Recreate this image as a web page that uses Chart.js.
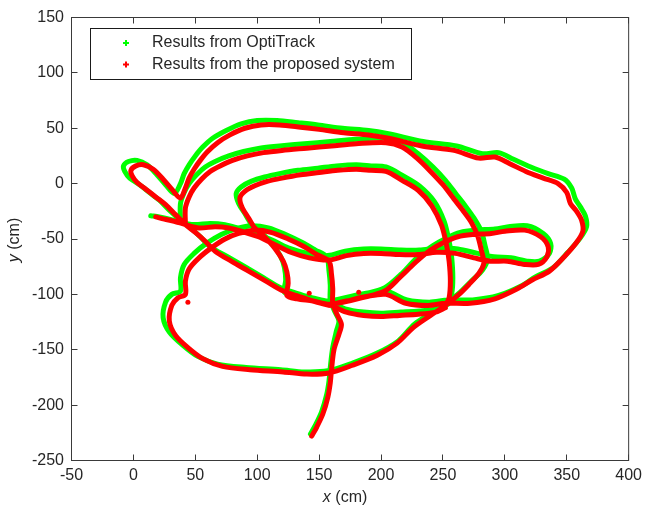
<!DOCTYPE html>
<html>
<head>
<meta charset="utf-8">
<script src="https://cdn.jsdelivr.net/npm/chart.js@4.4.1/dist/chart.umd.min.js"></script>
<style>
  body { margin: 0; background: #fff; }
  canvas { display: block; }
</style>
</head>
<body>
<canvas id="track" width="647" height="507"></canvas>
<script>
// tick values of both axes
var xTicks = [-50, 0, 50, 100, 150, 200, 250, 300, 350, 400];
var yTicks = [-250, -200, -150, -100, -50, 0, 50, 100, 150];
var legendLabels = ['Results from OptiTrack', 'Results from the proposed system'];

// trajectory, [x, y] in cm, null = break in the trace
var optiTrack = [
  [14,-29],[21,-30],[29,-32],[38,-35],[49,-37],[62,-36],[74,-37],[84,-40],[98,-45],[112,-51],[125,-58],[141,-63],[157,-65],
  [171,-61],[186,-59],[200,-59],[216,-60],[231,-60],[247,-58],[262,-59],[278,-63],[291,-66],[305,-67],[318,-70],[328,-70],
  [336,-63],[337,-54],[331,-45],[318,-38],[303,-39],[292,-41],[277,-42],[264,-44],[253,-49],[242,-56],[229,-67],[216,-82],
  [203,-94],[185,-100],[169,-104],[157,-106],[144,-103],[130,-101],[122,-98],[123,-87],[122,-76],[119,-66],[112,-54],
  [102,-43],[95,-36],[90,-27],[85,-18],[83,-9],[87,-3],[95,2],[106,6],[118,9],[133,12],[149,14],[164,16],[180,17],[192,16],
  [204,15],[218,7],[231,-2],[243,-16],[251,-34],[255,-52],[257,-66],[258,-85],[257,-100],[254,-107],
  null,
  [143,-226],[147,-218],[152,-206],[156,-191],[158,-178],[159,-166],[161,-148],[164,-133],[166,-124],[162,-114],[159,-105],
  [159,-92],[158,-79],[156,-66],[147,-60],[136,-53],[123,-46],[109,-40],[95,-38],[82,-41],[71,-46],[59,-54],[49,-63],[41,-73],
  [38,-85],[38,-97],[31,-100],[26,-107],[24,-121],[29,-134],[40,-146],[52,-156],[68,-163],[91,-166],[119,-168],[138,-170],
  [157,-169],[177,-162],[197,-153],[214,-142],[227,-127],[242,-116],[254,-107],[264,-98],[273,-88],[282,-78],[286,-68],
  [284,-56],[281,-43],[275,-31],[268,-20],[261,-10],[252,3],[242,15],[230,27],[218,37],[204,41],[180,40],[159,38],[138,36],
  [118,34],[102,32],[89,29],[77,25],[66,20],[58,15],[51,8],[45,0],[41,-8],[38,-18],[38,-33],
  null,
  [157,-107],[144,-103],[132,-99],[119,-94],[105,-85],[90,-75],[76,-66],[62,-57],[54,-48],[46,-40],[38,-33],[29,-24],[21,-15],
  [13,-8],[5,-1],[-3,5],[-7,11],[-8,16],[-4,20],[3,21],[11,17],[19,8],[26,-1],[33,-9],[38,0],[41,9],[45,17],[50,25],[56,33],
  [64,41],[75,48],[87,54],[100,57],[116,57],[133,55],[149,53],[169,50],[190,48],[206,45],[234,38],[261,34],[282,27],[295,28],
  [307,22],[321,15],[335,9],[348,4],[354,-4],[357,-14],[361,-21],[365,-29],[366,-39],[361,-49],[351,-62],[339,-76],[325,-84],
  [314,-92],[295,-101],[274,-105],[254,-105],[239,-107],[221,-105],[204,-97],[188,-99],[171,-103],[159,-106],
  null,
  [159,-107],[171,-113],[186,-116],[200,-117],[216,-116],[231,-115],[246,-113],[254,-109]
];

var proposed = [
  [18,-30],[25,-32],[33,-34],[42,-37],[53,-40],[66,-39],[77,-40],[87,-43],[101,-48],[114,-55],[127,-62],[142,-67],[158,-69],
  [172,-65],[186,-63],[200,-63],[215,-64],[230,-64],[245,-62],[260,-63],[275,-67],[288,-70],[302,-70],[316,-73],[327,-73],
  [334,-66],[335,-57],[329,-48],[316,-42],[300,-43],[289,-45],[274,-46],[262,-48],[251,-53],[240,-60],[228,-71],[215,-85],
  [203,-97],[185,-103],[170,-107],[158,-109],[145,-106],[132,-104],[124,-101],[125,-90],[124,-80],[121,-70],[114,-58],
  [105,-47],[98,-40],[93,-31],[88,-22],[86,-13],[90,-7],[98,-2],[108,2],[120,5],[135,8],[150,10],[165,12],[180,13],[192,12],
  [204,11],[217,3],[230,-6],[241,-20],[249,-38],[253,-56],[255,-70],[256,-88],[255,-103],[252,-110],
  null,
  [144,-228],[148,-220],[153,-208],[157,-193],[159,-180],[160,-168],[162,-150],[166,-136],[168,-127],[164,-117],[161,-108],
  [161,-95],[160,-82],[158,-70],[148,-64],[138,-57],[125,-50],[111,-44],[98,-42],[85,-45],[74,-50],[63,-58],[53,-67],[45,-77],
  [42,-88],[42,-100],[36,-103],[31,-110],[29,-124],[34,-137],[44,-148],[56,-158],[72,-165],[94,-168],[121,-170],[140,-172],
  [158,-171],[177,-164],[197,-155],[213,-144],[226,-130],[240,-119],[252,-110],[262,-101],[271,-91],[279,-81],[283,-72],
  [281,-60],[278,-47],[273,-35],[266,-24],[259,-14],[250,-1],[240,11],[229,23],[217,33],[204,37],[180,36],[160,34],[140,32],
  [120,30],[105,28],[92,25],[80,21],[70,16],[62,11],[55,4],[49,-4],[45,-12],[42,-22],[42,-37],
  null,
  [158,-110],[145,-106],[134,-102],[121,-97],[107,-88],[93,-79],[79,-70],[66,-61],[58,-52],[50,-44],[42,-37],[34,-28],[26,-19],
  [18,-12],[10,-5],[3,1],[-1,7],[-2,12],[2,16],[8,17],[16,13],[24,4],[31,-5],[38,-13],[42,-4],[45,5],[49,13],[54,21],[60,29],
  [68,37],[78,44],[90,50],[103,53],[118,53],[135,51],[150,49],[170,46],[190,44],[206,41],[233,34],[259,30],[279,23],[292,24],
  [304,18],[317,11],[331,5],[343,0],[350,-8],[353,-18],[358,-25],[362,-33],[363,-43],[358,-53],[348,-66],[336,-79],[322,-87],
  [310,-95],[292,-104],[272,-108],[252,-108],[238,-110],[220,-108],[204,-100],[188,-102],[172,-106],[160,-109],
  null,
  [160,-110],[172,-116],[186,-119],[200,-120],[215,-119],[230,-118],[244,-116],[252,-112],
  null, [44,-107], null, [142,-99], null, [182,-98]
];

function toPoints(list) {
    return list.map(function (p) {
        return p ? { x: p[0], y: p[1] } : { x: null, y: null };
    });
}

// a lone point between two breaks is drawn as a dot
function loneRadius(ctx) {
    var d = ctx.dataset.data, i = ctx.dataIndex;
    var prev = d[i - 1], next = d[i + 1];
    var gapBefore = !prev || prev.y === null;
    var gapAfter = !next || next.y === null;
    return (gapBefore && gapAfter) ? 2.5 : 0;
}

var textColor = '#262626';
var axisColor = '#3a3a3a';
var fontFamily = "'Liberation Sans', Arial, sans-serif";

// box, inward ticks, legend and axis titles in the matlab style
var matlabFrame = {
    id: 'matlabFrame',
    afterDraw: function (chart) {
        var ctx = chart.ctx, a = chart.chartArea;
        var xs = chart.scales.x, ys = chart.scales.y;
        ctx.save();
        ctx.strokeStyle = axisColor;
        ctx.lineWidth = 1;
        ctx.strokeRect(a.left, a.top, a.right - a.left, a.bottom - a.top);
        ctx.beginPath();
        xTicks.forEach(function (v) {
            var px = Math.round(xs.getPixelForValue(v) - 0.5) + 0.5;
            ctx.moveTo(px, a.bottom); ctx.lineTo(px, a.bottom - 6);
            ctx.moveTo(px, a.top); ctx.lineTo(px, a.top + 6);
        });
        yTicks.forEach(function (v) {
            var py = Math.round(ys.getPixelForValue(v) - 0.5) + 0.5;
            ctx.moveTo(a.left, py); ctx.lineTo(a.left + 6, py);
            ctx.moveTo(a.right, py); ctx.lineTo(a.right - 6, py);
        });
        ctx.stroke();

        // legend box inside the axes
        ctx.fillStyle = '#fff';
        ctx.fillRect(90.5, 28.5, 321, 51);
        ctx.strokeStyle = '#1a1a1a';
        ctx.strokeRect(90.5, 28.5, 321, 51);
        var colors = ['#00ff00', '#ff0000'];
        var rowY = [43, 64.5];
        ctx.font = '16px ' + fontFamily;
        ctx.textBaseline = 'middle';
        ctx.textAlign = 'left';
        legendLabels.forEach(function (t, i) {
            ctx.strokeStyle = colors[i];
            ctx.lineWidth = 2;
            ctx.beginPath();
            ctx.moveTo(123, rowY[i]); ctx.lineTo(129, rowY[i]);
            ctx.moveTo(126, rowY[i] - 3); ctx.lineTo(126, rowY[i] + 3);
            ctx.stroke();
            ctx.fillStyle = textColor;
            ctx.fillText(t, 152, rowY[i]);
        });

        // axis titles, italic variable names
        ctx.fillStyle = textColor;
        var it = 'italic 16px ' + fontFamily, nm = '16px ' + fontFamily;
        ctx.font = it; var wx = ctx.measureText('x').width;
        ctx.font = nm; var wr = ctx.measureText(' (cm)').width;
        var cx = (a.left + a.right) / 2 - 5;
        var sx = cx - (wx + wr) / 2;
        ctx.font = it; ctx.fillText('x', sx, 498);
        ctx.font = nm; ctx.fillText(' (cm)', sx + wx, 498);

        ctx.translate(15, (a.top + a.bottom) / 2 + 1);
        ctx.rotate(-Math.PI / 2);
        ctx.font = it; var wy = ctx.measureText('y').width;
        var sy = -(wy + wr) / 2;
        ctx.fillText('y', sy, 0);
        ctx.font = nm; ctx.fillText(' (cm)', sy + wy, 0);
        ctx.restore();
    }
};

var lineStyle = {
    showLine: true,
    borderWidth: 5,
    tension: 0.3,
    fill: false,
    pointRadius: loneRadius,
    pointHoverRadius: 0,
    pointBorderWidth: 0,
    borderJoinStyle: 'round',
    borderCapStyle: 'round'
};

var chartTrack = new Chart(document.getElementById('track').getContext('2d'), {
    type: 'scatter',
    data: {
        datasets: [
            Object.assign({
                label: legendLabels[0],
                data: toPoints(optiTrack),
                borderColor: '#00ff00',
                backgroundColor: '#00ff00',
                order: 1
            }, lineStyle),
            Object.assign({
                label: legendLabels[1],
                data: toPoints(proposed),
                borderColor: '#ff0000',
                backgroundColor: '#ff0000',
                order: 0
            }, lineStyle)
        ]
    },
    options: {
        responsive: false,
        animation: false,
        layout: {
            padding: { top: 17.5, right: 15.5, left: 0, bottom: 0 }
        },
        scales: {
            x: {
                type: 'linear',
                min: -50,
                max: 400,
                grid: { display: false, drawTicks: false },
                border: { display: false },
                ticks: {
                    stepSize: 50,
                    autoSkip: false,
                    maxRotation: 0,
                    padding: 5,
                    color: textColor,
                    font: { family: fontFamily, size: 16 }
                },
                afterFit: function (scale) { scale.height = 46.5; }
            },
            y: {
                type: 'linear',
                min: -250,
                max: 150,
                grid: { display: false, drawTicks: false },
                border: { display: false },
                ticks: {
                    stepSize: 50,
                    autoSkip: false,
                    padding: 7.5,
                    color: textColor,
                    font: { family: fontFamily, size: 16 }
                },
                afterFit: function (scale) { scale.width = 71.5; }
            }
        },
        plugins: {
            legend: { display: false },
            tooltip: { enabled: false }
        }
    },
    plugins: [matlabFrame]
});
</script>
</body>
</html>
